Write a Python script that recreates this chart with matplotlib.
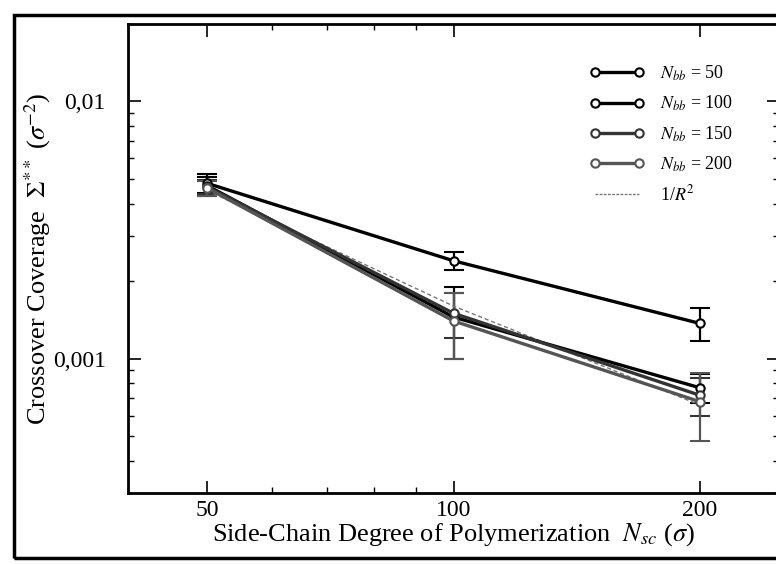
"""
Crossover coverage vs side-chain degree of polymerization (log-log),
one curve per backbone length, plus the 1/R^2 guide.
"""

import matplotlib
matplotlib.use("Agg")
import matplotlib.pyplot as plt
from matplotlib.lines import Line2D
from matplotlib.patches import Rectangle
from matplotlib.ticker import FixedLocator, FixedFormatter, LogLocator, NullFormatter

plt.rcParams["font.family"] = ["Liberation Serif", "DejaVu Serif"]
plt.rcParams["mathtext.fontset"] = "stix"

# side-chain lengths
nsc = [50, 100, 200]

# crossover coverage per backbone length, with error bars
cov_50 = [0.0048, 0.0024, 0.00137]
err_50 = [0.0004, 0.0002, 0.0002]
cov_100 = [0.0047, 0.00145, 0.00077]
err_100 = [0.0004, 0.00045, 0.0001]
cov_150 = [0.00465, 0.0015, 0.00072]
err_150 = [0.0003, 0.0003, 0.00012]
cov_200 = [0.0046, 0.0014, 0.00068]
err_200 = [0.0003, 0.0004, 0.0002]

# 1/R^2 guide
inv_r2 = [0.0045, 0.0016, 0.00066]

series = [
    ("$N_{bb}$ = 50", cov_50, err_50, "black"),
    ("$N_{bb}$ = 100", cov_100, err_100, "black"),
    ("$N_{bb}$ = 150", cov_150, err_150, "#333333"),
    ("$N_{bb}$ = 200", cov_200, err_200, "#555555"),
]

fig = plt.figure(figsize=(7.76, 5.64), dpi=100)
ax = fig.add_axes([128 / 776, 1 - 493 / 564, 651 / 776, 469 / 564])

handles = []
for label, y, e, c in series:
    ax.errorbar(nsc, y, yerr=e, color=c, lw=2.4, marker="o", ms=6,
                mfc="white", mec=c, mew=1.5, capsize=7, capthick=2,
                elinewidth=1.6)
    handles.append(Line2D([], [], color=c, lw=2.4, marker="o", ms=6,
                          mfc="white", mec=c, mew=1.5, label=label))

ax.plot(nsc, inv_r2, color="#777777", lw=1.0, ls=(0, (3, 2)))
handles.append(Line2D([], [], color="#777777", lw=1.0, ls=(0, (2, 1)),
                      label="1/$R^2$"))

ax.set_xscale("log")
ax.set_yscale("log")
ax.set_xlim(40, 250)
ax.set_ylim(0.0003, 0.02)

ax.xaxis.set_major_locator(FixedLocator([50, 100, 200]))
ax.xaxis.set_major_formatter(FixedFormatter(["50", "100", "200"]))
ax.xaxis.set_minor_locator(LogLocator(base=10, subs=range(1, 10)))
ax.xaxis.set_minor_formatter(NullFormatter())

ax.yaxis.set_major_locator(FixedLocator([0.001, 0.01]))
ax.yaxis.set_major_formatter(FixedFormatter(["0,001", "0,01"]))
ax.yaxis.set_minor_locator(LogLocator(base=10, subs=range(1, 10)))
ax.yaxis.set_minor_formatter(NullFormatter())

ax.tick_params(which="both", direction="in", top=True, right=True)
ax.tick_params(which="major", length=9, width=1.2, labelsize=17)
ax.tick_params(which="minor", length=4, width=1.0)
ax.tick_params(axis="x", which="major", pad=5)
ax.tick_params(axis="y", which="major", pad=16)
for s in ax.spines.values():
    s.set_linewidth(2)

ax.set_xlabel("Side-Chain Degree of Polymerization  $N_{sc}$ ($\\sigma$)",
              fontsize=19, labelpad=0)
ax.set_ylabel("Crossover Coverage  $\\Sigma^{**}$ ($\\sigma^{-2}$)",
              fontsize=19, labelpad=0)

ax.legend(handles=handles, loc="upper right", bbox_to_anchor=(0.955, 0.95),
          frameon=False, fontsize=13, handlelength=3.0, numpoints=2,
          labelspacing=0.6, handletextpad=0.9)

# outer frame of the scanned figure
fig.patches.append(Rectangle((14 / 776, 6 / 564), 1.1, 543 / 564,
                             transform=fig.transFigure, fill=False,
                             lw=2.5, ec="black"))

fig.savefig("out.png", dpi=100)
